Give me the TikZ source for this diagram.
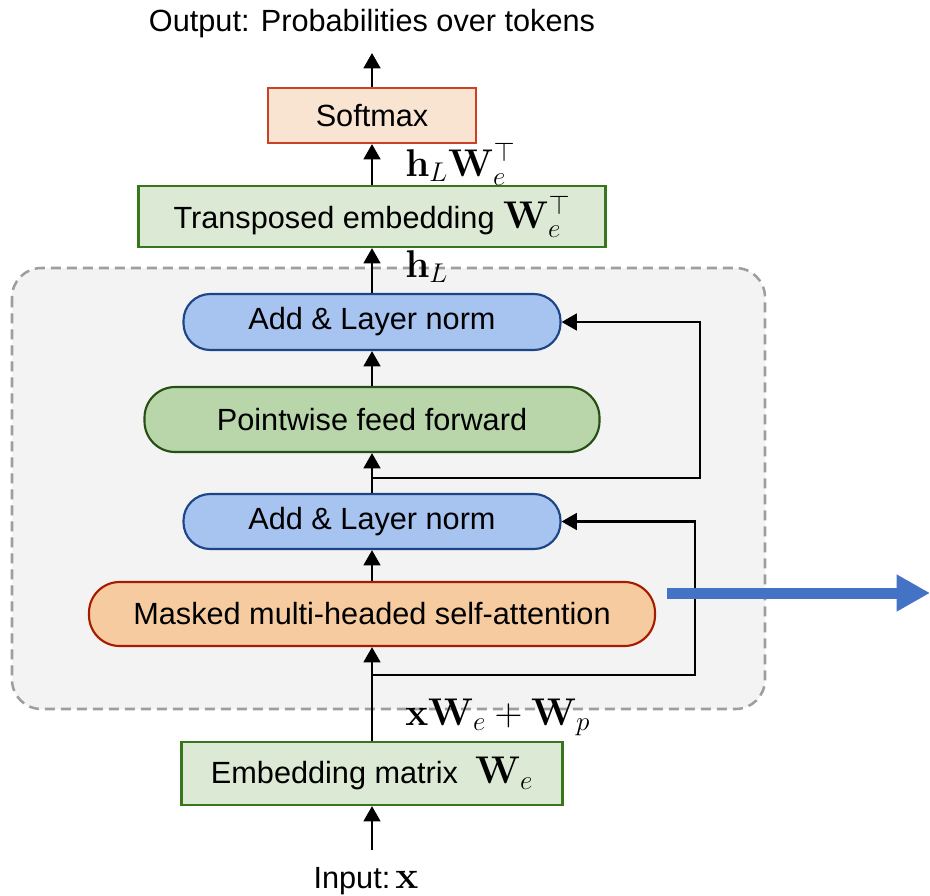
\RequirePackage{fix-cm}
\documentclass[tikz,border=0pt]{standalone}
\usepackage[no-math]{fontspec}
\setmainfont{Liberation Sans}
\usetikzlibrary{arrows.meta}

\definecolor{smfill}{HTML}{F9E4D2}
\definecolor{smdraw}{HTML}{CC4125}
\definecolor{embfill}{HTML}{DCEAD5}
\definecolor{embdraw}{HTML}{38761D}
\definecolor{addfill}{HTML}{A7C3F0}
\definecolor{adddraw}{HTML}{1C4587}
\definecolor{fffill}{HTML}{B9D6AA}
\definecolor{ffdraw}{HTML}{274E13}
\definecolor{attfill}{HTML}{F5CB9F}
\definecolor{attdraw}{HTML}{A61C00}
\definecolor{blockfill}{HTML}{F3F3F3}
\definecolor{blockdraw}{HTML}{9E9E9E}
\definecolor{outblue}{HTML}{4472C4}

% math set a little larger than the surrounding text
\newcommand{\mth}[1]{{\fontsize{29}{30}\selectfont$#1$}}

\tikzset{
  basebox/.style={draw, line width=1.6pt, inner sep=0pt, align=center},
  rectbox/.style={basebox},
  pillbox/.style={basebox, rounded corners=20pt},
  arr/.style={line width=2.1pt, -{Triangle[width=12.5pt,length=11.5pt]}},
  lbl/.style={inner sep=0pt, anchor=base west},
}

\begin{document}
\begin{tikzpicture}[x=0.75pt, y=-0.75pt, font=\fontsize{23}{27}\selectfont]
\useasboundingbox (0,0) rectangle (930,895);

% transformer block container
\draw[blockdraw, fill=blockfill, line width=1.9pt, dash pattern=on 7.5pt off 4.5pt,
      rounded corners=22pt] (12,268) rectangle (765,709);

% stack of layers
\node[rectbox, draw=smdraw, fill=smfill, minimum width=156pt, minimum height=41.25pt]
  (SM) at (372,115.5) {Softmax};
\node[rectbox, draw=embdraw, fill=embfill, minimum width=350.25pt, minimum height=45.75pt]
  (TE) at (372,216.5) {Transposed embedding \mth{\mathbf{W}_e^\top}};
\node[pillbox, draw=adddraw, fill=addfill, minimum width=282.75pt, minimum height=42pt]
  (ADD1) at (372,322) {Add \& Layer norm};
\node[pillbox, rounded corners=23pt, draw=ffdraw, fill=fffill, minimum width=341.25pt, minimum height=48.75pt]
  (PFF) at (372,419.5) {Pointwise feed forward};
\node[pillbox, draw=adddraw, fill=addfill, minimum width=282.75pt, minimum height=41.25pt]
  (ADD2) at (372,521.5) {Add \& Layer norm};
\node[pillbox, rounded corners=23pt, draw=attdraw, fill=attfill, minimum width=424.5pt, minimum height=48pt]
  (MSA) at (372,614) {Masked multi-headed self-attention};
\node[rectbox, draw=embdraw, fill=embfill, minimum width=285.75pt, minimum height=47.25pt]
  (EMB) at (372,773.5) {Embedding matrix \;\mth{\mathbf{W}_e}};

% input and output texts
\node[inner sep=0pt, anchor=base] (OUT) at (372,32) {Output: Probabilities over tokens};
\node[inner sep=0pt, anchor=base] (IN) at (366,888) {Input:\,\mth{\mathbf{x}}};

% free ends and branch points
\coordinate (outTip) at (372,53);
\coordinate (inStart) at (372,850);
\coordinate (s1) at (372,478);
\coordinate (r1) at (700,478);
\coordinate (s2) at (372,675);
\coordinate (r2) at (695,675);
\coordinate (bS) at (667,593);
\coordinate (bE) at (930,593);

% main data flow
\draw[arr] (inStart) -- (EMB.south);
\draw[arr] (EMB.north) -- (MSA.south);
\draw[arr] (MSA.north) -- (ADD2.south);
\draw[arr] (ADD2.north) -- (PFF.south);
\draw[arr] (PFF.north) -- (ADD1.south);
\draw[arr] (ADD1.north) -- (TE.south);
\draw[arr] (TE.north) -- (SM.south);
\draw[arr] (SM.north) -- (outTip);

% residual connections
\draw[arr] (s2) -- (r2) |- (ADD2.east);
\draw[arr] (s1) -- (r1) |- (ADD1.east);

% outgoing attention arrow
\draw[outblue, line width=8.25pt, -{Triangle[width=26pt,length=25pt]}] (bS) -- (bE);

% tensor labels
\node[lbl] (L1) at (405,176) {\mth{\mathbf{h}_L\mathbf{W}_e^\top}};
\node[lbl] (L2) at (405,277) {\mth{\mathbf{h}_L}};
\node[lbl] (L3) at (405,725) {\mth{\mathbf{x}\mathbf{W}_e+\mathbf{W}_p}};
\end{tikzpicture}
\end{document}
